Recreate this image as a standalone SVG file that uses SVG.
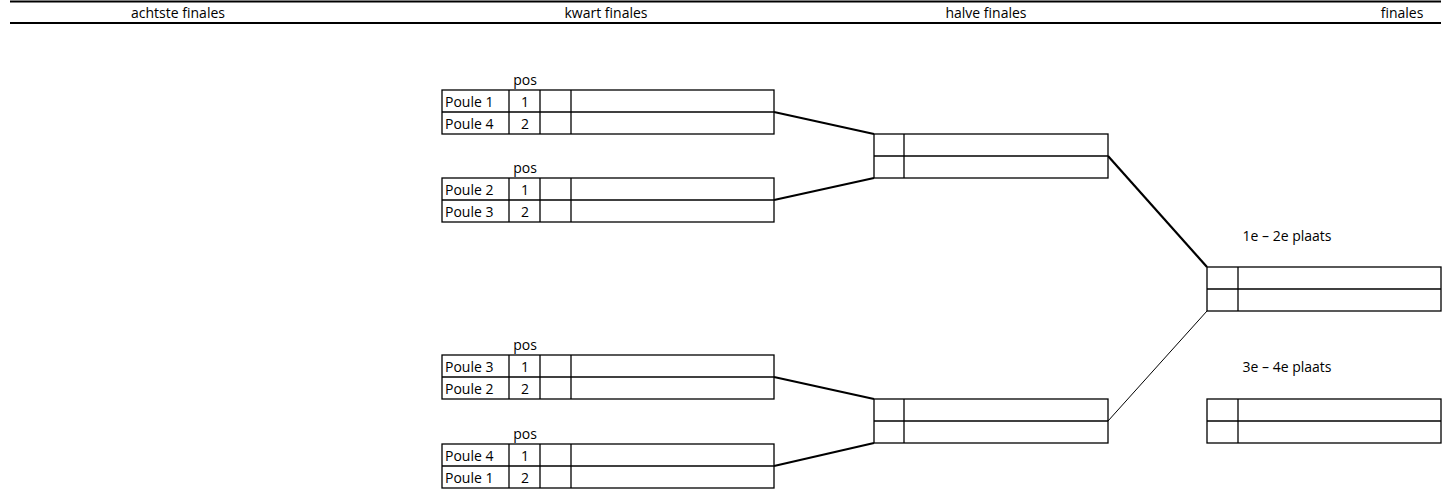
<svg xmlns="http://www.w3.org/2000/svg" width="1447" height="489" viewBox="0 0 1447 489">
<style>
text{font-family:"Open Sans","Liberation Sans",sans-serif;font-size:14px;fill:#000}
.c{text-anchor:middle}
.box{fill:#fff;stroke:#000;stroke-width:1.3}
.ln{stroke:#000;stroke-width:1.3;fill:none}
.thick{stroke:#000;stroke-width:2.2;fill:none}
.thin{stroke:#000;stroke-width:1;fill:none}
.hdr{stroke:#000;stroke-width:1.8}
</style>
<g id="header">
<line class="hdr" x1="10" y1="1.5" x2="1441" y2="1.5"/>
<line class="hdr" x1="10" y1="23" x2="1441" y2="23"/>
<text class="c" x="178" y="18">achtste finales</text>
<text class="c" x="606" y="18">kwart finales</text>
<text class="c" x="986" y="18">halve finales</text>
<text class="c" x="1402" y="18">finales</text>
</g>
<g id="connectors">
<line class="thick" x1="774" y1="112" x2="874" y2="134"/>
<line class="thick" x1="774" y1="200" x2="874" y2="178"/>
<line class="thick" x1="774" y1="377" x2="874" y2="399"/>
<line class="thick" x1="774" y1="466" x2="874" y2="443"/>
<line class="thick" x1="1108" y1="156" x2="1207" y2="267"/>
<line class="thin" x1="1108" y1="421" x2="1207" y2="311"/>
</g>
<g id="qf1">
<text class="c" x="525" y="85">pos</text>
<rect class="box" x="442" y="90" width="332" height="44"/>
<line class="ln" x1="442" y1="112" x2="774" y2="112"/>
<line class="ln" x1="509" y1="90" x2="509" y2="134"/>
<line class="ln" x1="540" y1="90" x2="540" y2="134"/>
<line class="ln" x1="571" y1="90" x2="571" y2="134"/>
<text x="445" y="107">Poule 1</text><text class="c" x="525" y="107">1</text>
<text x="445" y="129">Poule 4</text><text class="c" x="525" y="129">2</text>
</g>
<g id="qf2">
<text class="c" x="525" y="173">pos</text>
<rect class="box" x="442" y="178" width="332" height="44"/>
<line class="ln" x1="442" y1="200" x2="774" y2="200"/>
<line class="ln" x1="509" y1="178" x2="509" y2="222"/>
<line class="ln" x1="540" y1="178" x2="540" y2="222"/>
<line class="ln" x1="571" y1="178" x2="571" y2="222"/>
<text x="445" y="195">Poule 2</text><text class="c" x="525" y="195">1</text>
<text x="445" y="217">Poule 3</text><text class="c" x="525" y="217">2</text>
</g>
<g id="qf3">
<text class="c" x="525" y="350">pos</text>
<rect class="box" x="442" y="355" width="332" height="44"/>
<line class="ln" x1="442" y1="377" x2="774" y2="377"/>
<line class="ln" x1="509" y1="355" x2="509" y2="399"/>
<line class="ln" x1="540" y1="355" x2="540" y2="399"/>
<line class="ln" x1="571" y1="355" x2="571" y2="399"/>
<text x="445" y="372">Poule 3</text><text class="c" x="525" y="372">1</text>
<text x="445" y="394">Poule 2</text><text class="c" x="525" y="394">2</text>
</g>
<g id="qf4">
<text class="c" x="525" y="439">pos</text>
<rect class="box" x="442" y="444" width="332" height="44"/>
<line class="ln" x1="442" y1="466" x2="774" y2="466"/>
<line class="ln" x1="509" y1="444" x2="509" y2="488"/>
<line class="ln" x1="540" y1="444" x2="540" y2="488"/>
<line class="ln" x1="571" y1="444" x2="571" y2="488"/>
<text x="445" y="461">Poule 4</text><text class="c" x="525" y="461">1</text>
<text x="445" y="483">Poule 1</text><text class="c" x="525" y="483">2</text>
</g>
<g id="sf1">
<rect class="box" x="874" y="134" width="234" height="44"/>
<line class="ln" x1="874" y1="156" x2="1108" y2="156"/>
<line class="ln" x1="904" y1="134" x2="904" y2="178"/>
</g>
<g id="sf2">
<rect class="box" x="874" y="399" width="234" height="44"/>
<line class="ln" x1="874" y1="421" x2="1108" y2="421"/>
<line class="ln" x1="904" y1="399" x2="904" y2="443"/>
</g>
<g id="final">
<text class="c" x="1287" y="241">1e – 2e plaats</text>
<rect class="box" x="1207" y="267" width="234" height="44"/>
<line class="ln" x1="1207" y1="289" x2="1441" y2="289"/>
<line class="ln" x1="1238" y1="267" x2="1238" y2="311"/>
</g>
<g id="third">
<text class="c" x="1287" y="372">3e – 4e plaats</text>
<rect class="box" x="1207" y="399" width="234" height="44"/>
<line class="ln" x1="1207" y1="421" x2="1441" y2="421"/>
<line class="ln" x1="1238" y1="399" x2="1238" y2="443"/>
</g>
</svg>
